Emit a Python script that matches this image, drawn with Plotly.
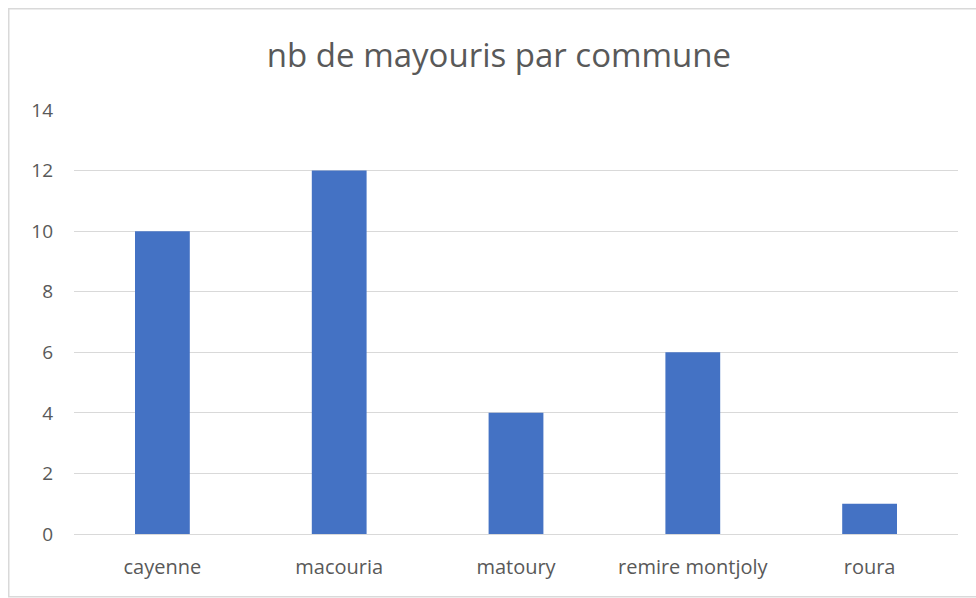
import plotly.graph_objects as go

communes = ["cayenne", "macouria", "matoury", "remire montjoly", "roura"]
nb_mayouris = [10, 12, 4, 6, 1]
y_ticks = [0, 2, 4, 6, 8, 10, 12, 14]

# body margin is removed below, so figure pixels equal page pixels
W, H = 976, 598
L, R, T, B = 74, 18, 110, 64
pw, ph = W - L - R, H - T - B

fig = go.Figure(go.Bar(x=communes, y=nb_mayouris, marker_color="#4472C4",
                       marker_line_width=0))

fig.update_layout(
    width=W, height=H,
    margin=dict(l=L, r=R, t=T, b=B),
    paper_bgcolor="white", plot_bgcolor="white",
    bargap=0.69,
    showlegend=False,
    title=dict(text="nb de mayouris par commune", x=499 / W, xanchor="center",
               xref="container",
               y=1 - 55 / H, yanchor="middle",
               font=dict(family="Open Sans", size=33, color="#595959")),
    font=dict(family="Open Sans", size=20, color="#595959"),
    xaxis=dict(showgrid=False, showline=False, zeroline=False, ticks="",
               ticklabelstandoff=19, tickfont=dict(size=20)),
    yaxis=dict(range=[0, 14], tickvals=y_ticks, showgrid=True, gridcolor="#d9d9d9",
               gridwidth=1.3, zeroline=True, zerolinecolor="#d9d9d9", zerolinewidth=1.3,
               showline=False, ticks="", ticklabelstandoff=20, tickfont=dict(size=19)),
    shapes=[dict(type="rect", xref="paper", yref="paper",
                 x0=(8.75 - L) / pw, x1=(W + 20 - L) / pw,
                 y0=(H - B - 596.75) / ph, y1=(H - B - 8.75) / ph,
                 line=dict(color="#d9d9d9", width=1.5), fillcolor="rgba(0,0,0,0)",
                 layer="below")],
)

fig.write_html(
    "out.html",
    config={"displayModeBar": False},
    post_script="document.body.style.margin='0';document.body.style.overflow='hidden';",
)
